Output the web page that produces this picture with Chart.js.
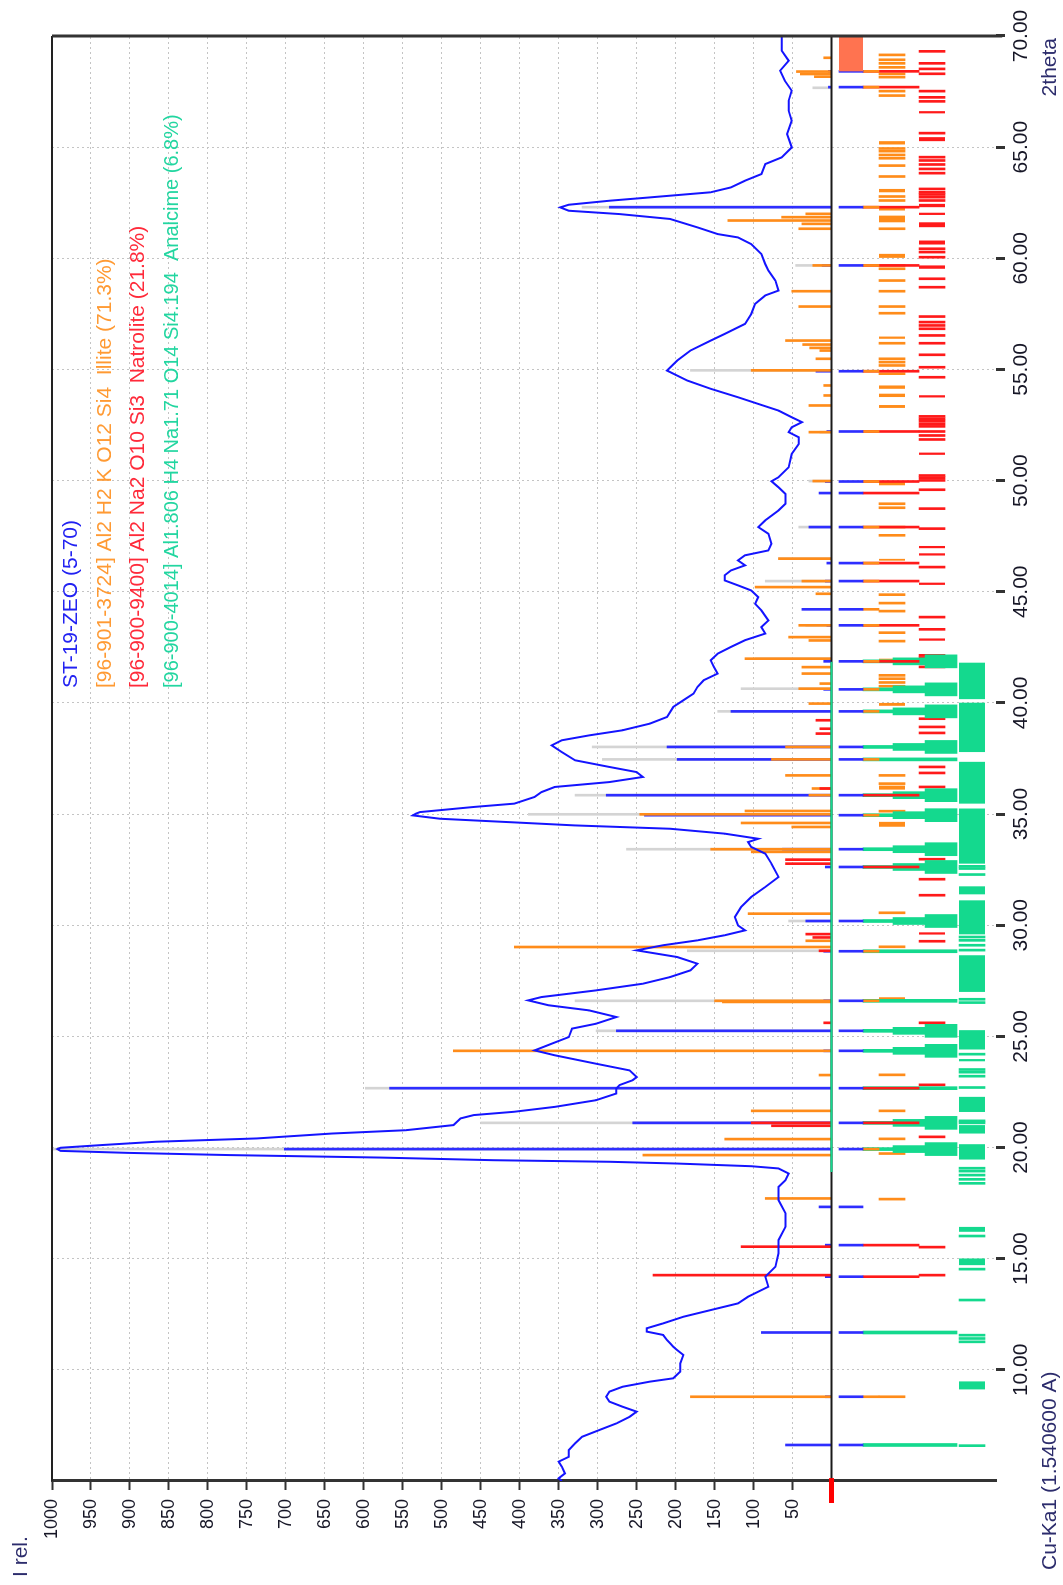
<!DOCTYPE html>
<html>
<head>
<meta charset="utf-8">
<title>ST-19-ZEO</title>
<script src="https://cdn.jsdelivr.net/npm/chart.js@4.4.0/dist/chart.umd.min.js"></script>
<style>
  html, body { margin: 0; padding: 0; background: #fff; overflow: hidden; }
  /* the plot is drawn upright and turned a quarter turn, like the original print */
  #wrap {
    position: absolute; left: 0; top: 0;
    width: 1585px; height: 1063px;
    transform-origin: 0 0;
    transform: translate(0, 1585px) rotate(-90deg);
  }
</style>
</head>
<body>
<div id="wrap"><canvas id="xrd" width="1585" height="1063"></canvas></div>
<script>
// --- Measured scan: [2theta, I rel.] ---
const scanPoints = [
  [5.0,346],[5.12,350],[5.34,342],[5.64,346],[5.87,350],[6.09,337],[6.39,337],[6.69,329],[6.99,320],
  [7.29,298],[7.59,276],[7.89,259],[8.12,250],[8.34,268],[8.57,285],[8.79,289],[9.02,285],[9.24,268],
  [9.47,233],[9.62,203],[9.92,194],[10.29,194],[10.67,190],[10.89,198],[11.04,203],[11.19,207],[11.34,211],
  [11.57,216],[11.72,237],[11.87,237],[12.09,216],[12.39,190],[12.69,155],[12.99,120],[13.29,107],[13.74,81],
  [14.19,85],[14.64,72],[15.24,68],[15.84,68],[16.44,59],[17.04,59],[17.63,68],[18.23,68],[18.53,59],
  [18.83,55],[19.06,68],[19.16,103],[19.28,198],[19.36,285],[19.43,433],[19.55,580],[19.66,771],[19.76,902],
  [19.85,989],[19.93,993],[19.99,989],[20.11,937],[20.26,867],[20.41,737],[20.63,641],[20.78,546],[21.01,485],
  [21.31,476],[21.46,459],[21.61,407],[21.83,355],[22.13,302],[22.43,276],[22.65,276],[22.81,272],[23.03,255],
  [23.17,250],[23.47,259],[23.77,302],[24.15,355],[24.37,381],[24.67,359],[24.97,337],[25.35,333],[25.57,302],
  [25.87,276],[26.17,311],[26.40,363],[26.62,389],[26.77,372],[27.07,302],[27.37,242],[27.67,207],[27.97,181],
  [28.27,172],[28.57,198],[28.87,250],[29.10,216],[29.32,172],[29.55,137],[29.77,111],[29.99,120],[30.37,124],
  [30.82,116],[31.27,103],[31.72,85],[32.17,68],[32.77,77],[33.22,85],[33.52,103],[33.74,107],[33.89,94],
  [34.12,137],[34.34,207],[34.49,329],[34.64,415],[34.79,502],[34.94,537],[35.02,533],[35.09,528],[35.32,459],
  [35.47,407],[35.77,381],[35.99,372],[36.22,355],[36.44,285],[36.67,242],[36.89,250],[37.12,285],[37.42,329],
  [37.79,346],[38.09,359],[38.32,346],[38.54,311],[38.77,268],[39.07,233],[39.37,211],[39.82,203],[40.12,190],
  [40.42,177],[40.72,172],[41.02,164],[41.32,146],[41.62,151],[41.92,155],[42.22,146],[42.52,129],[42.82,111],
  [43.12,85],[43.41,90],[43.71,81],[44.16,90],[44.46,98],[44.76,94],[45.06,103],[45.29,120],[45.51,137],
  [45.74,137],[45.96,129],[46.19,111],[46.41,120],[46.64,111],[46.86,81],[47.16,77],[47.61,81],[47.91,94],
  [48.21,85],[48.66,68],[48.96,59],[49.40,59],[49.70,68],[49.97,77],[50.15,68],[50.60,55],[51.20,51],
  [51.65,42],[51.95,42],[52.18,55],[52.40,51],[52.63,38],[52.85,51],[53.15,68],[53.45,94],[53.75,120],
  [54.13,155],[54.50,185],[54.95,211],[55.40,198],[55.85,181],[56.30,155],[56.60,137],[57.05,111],[57.50,103],
  [57.95,98],[58.33,85],[58.55,68],[59.00,72],[59.45,81],[59.74,85],[60.19,90],[60.64,103],[60.94,120],
  [61.09,146],[61.39,172],[61.77,207],[61.99,272],[62.14,337],[62.29,348],[62.41,337],[62.59,285],[62.74,233],
  [62.97,155],[63.19,129],[63.49,111],[63.79,90],[64.24,85],[64.54,64],[64.99,51],[65.59,57],[66.19,51],
  [66.64,55],[67.09,55],[67.54,51],[67.99,60],[68.44,66],[68.89,55],[69.34,64],[70.0,64]
];

// --- Peak sticks above the zero line: [2theta, I rel.] ---
const greySticks = [
  [19.93,1000],[21.11,450],[22.67,598],[25.25,302],[26.60,329],[28.85,185],[30.19,55],[33.42,263],[34.99,389],
  [35.85,329],[37.46,294],[38.02,307],[39.62,146],[40.64,116],[41.99,98],[43.49,33],[45.48,85],[46.49,68],
  [47.91,42],[49.98,29],[52.18,15],[54.96,181],[59.68,46],[62.30,320],[67.67,24]
];
const peakSticks = [
  [6.62,59],[8.79,8],[11.68,90],[14.19,8],[15.61,8],[17.33,16],[19.93,702],[21.11,255],[22.67,567],[24.35,10],
  [25.25,276],[26.60,10],[28.83,10],[30.19,33],[32.62,8],[33.42,63],[34.95,240],[35.85,289],[37.46,198],
  [38.02,211],[39.62,129],[40.61,10],[41.87,10],[43.49,6],[44.21,38],[45.48,8],[46.29,6],[47.91,29],[49.44,16],
  [49.96,8],[52.21,6],[54.92,20],[59.68,12],[62.30,285],[67.70,4],[68.41,4]
];
const illiteSticks = [
  [8.79,181],[17.71,85],[19.66,242],[20.38,137],[21.65,103],[23.26,16],[24.35,485],[26.55,140],[26.60,150],
  [29.02,407],[29.30,33],[30.52,107],[33.30,103],[33.42,155],[34.42,51],[34.60,116],[34.99,246],[35.14,111],
  [35.85,29],[36.15,25],[36.74,59],[37.46,77],[38.02,59],[39.97,29],[40.64,42],[40.87,15],[41.32,38],[41.61,38],
  [41.99,111],[42.81,29],[42.96,55],[43.49,42],[44.91,20],[45.21,98],[45.48,38],[46.49,68],[49.98,24],[52.18,29],
  [53.38,29],[53.83,10],[54.28,10],[54.96,103],[55.48,20],[55.85,15],[55.97,28],[56.12,37],[56.30,59],[57.83,42],
  [58.52,51],[59.68,24],[61.33,42],[61.55,38],[61.70,133],[61.85,64],[62.00,33],[68.17,22],[68.29,40],[68.40,45],
  [69.02,10]
];
const natroliteSticks = [
  [14.26,229],[15.54,116],[20.98,77],[21.11,103],[25.61,10],[28.85,16],[29.45,24],[29.60,33],[32.77,59],
  [32.95,59],[36.15,15],[38.62,20],[38.84,15],[39.22,20]
];

// --- Phase marker rows below the zero line (2theta positions) ---
const illiteRow = [
  8.79,17.68,19.73,20.39,21.65,23.27,29.03,30.56,35.13,36.37,36.74,40.75,40.92,41.09,41.24,42.78,43.16,44.13,
  44.49,44.87,47.54,47.91,48.78,48.96,54.81,55.18,55.33,55.48,56.18,57.53,57.83,58.52,59.00,59.53,59.68,61.33,
  62.60,62.78,63.68,64.17,64.50,64.65,64.82,64.94,67.32,67.52,68.15,68.30,68.59,68.77,68.93,69.15
];
const illiteBlocks = [
  [26.62,26.76],[34.43,34.65],[36.10,36.28],[39.87,40.00],[41.87,41.99],[46.40,46.48],[49.79,49.94],[53.27,53.40],
  [53.76,53.91],[54.13,54.28],[56.38,56.48],[60.02,60.20],[61.62,61.92],[62.15,62.30],[62.97,63.12],[65.12,65.27]
];
const natroliteRow = [
  14.26,15.52,20.48,21.20,22.82,25.61,29.28,31.35,32.07,32.97,36.22,36.85,37.12,38.65,38.92,39.29,41.62,41.92,
  42.04,42.14,43.31,43.86,46.11,47.84,48.74,49.59,50.01,50.13,50.23,51.85,52.03,52.21,52.44,52.56,52.68,52.78,
  52.89,54.65,55.10,55.66,56.18,56.53,56.83,56.98,57.13,57.38,58.70,59.08,60.05,60.28,60.43,62.60,62.75,62.87,
  62.97,63.12,63.83,64.02,64.22,64.40,64.55,65.63,67.06,67.24,67.52,68.30,68.52,68.77,69.31
];
const natroliteBlocks = [
  [29.58,29.68],[42.80,42.90],[45.31,45.41],[46.63,46.73],[46.96,47.06],[51.16,51.26],[53.74,53.84],[59.53,59.68],
  [60.62,60.80],[61.40,61.62],[61.95,62.05],[62.30,62.45],[65.27,65.45],[66.52,66.62]
];
const analcimeRow = [
  6.59,11.26,11.41,11.56,13.14,14.53,16.02,18.39,18.57,18.76,18.94,19.07,21.11,21.20,22.70,23.21,23.39,23.51,
  24.20,26.52,26.67,28.88,29.10,29.32,29.47,32.28,32.55,32.65
];
const analcimeBlocks = [
  [9.12,9.48],[14.71,15.01],[16.21,16.43],[19.46,20.15],[20.63,21.01],[21.60,22.28],[23.88,23.98],[24.41,25.28],
  [27.00,28.65],[29.59,31.12],[31.39,31.75],[32.77,35.25],[35.47,37.35],[37.79,40.01],[40.17,41.81]
];
const excludedRange = [[68.41,70.0]];

// --- Links from observed peaks to the phase rows ---
const illiteLinks = [
  8.79,19.93,26.60,28.83,34.95,37.46,39.62,40.61,41.87,43.49,44.21,45.48,46.29,47.91,49.96,52.21,54.92,59.68,
  62.30,67.70,68.41
];
const natroliteLinks = [
  14.19,15.61,21.11,22.67,32.62,35.85,41.87,43.49,45.48,46.29,47.91,49.44,49.96,52.21,54.92,59.68,62.30,67.70,68.41
];
const analcimeWedges = [19.93,21.11,24.35,25.25,30.19,32.62,33.42,34.95,35.85,38.02,39.62,40.61,41.87];
const analcimeThin = [6.62,11.68,22.67,26.60,28.83,37.46];

// --- Axis ticks and texts ---
const thetaTicks = { min: 5, max: 70, step: 5 };
const intensityTicks = { min: -211, max: 1000, step: 50 };
const phaseLabels = [
  { text: 'ST-19-ZEO (5-70)', color: '#2222f2', size: 21 },
  { text: '[96-901-3724] Al2 H2 K O12 Si4  Illite (71.3%)', color: '#ff9a33', size: 21 },
  { text: '[96-900-9400] Al2 Na2 O10 Si3  Natrolite (21.8%)', color: '#ff2a3a', size: 21 },
  { text: '[96-900-4014] Al1.806 H4 Na1.71 O14 Si4.194  Analcime (6.8%)', color: '#22d6a0', size: 20 }
];

// --- Styling ---
const FONT = '"Liberation Sans", Arial, Helvetica, sans-serif';
const C = {
  scan: '#1414ff', peak: '#2e2eff', grey: '#d4d4d4', illite: '#ff8c1a', natrolite: '#ff1a1a',
  analcime: '#14d98e', excluded: '#ff7350', axis: '#333333', grid: '#c4c4c4', text: '#161626'
};
// bands below zero (in I rel. units)
const band = {
  peak: [-9.6, -40.4],
  illite: [-60.9, -94.3],
  natrolite: [-112.3, -145.6],
  analcime: [-163.6, -196.9],
  wedge: [-40.4, -78.9, -120, -161]
};
const mid = b => (b[0] + b[1]) / 2;

function heightBars(pairs) { return pairs.map(([t, v]) => ({ x: t, y: [0, v] })); }
function rowBars(list, lo, hi) { return list.map(t => ({ x: t, y: [lo, hi] })); }
function blockLine(blocks, level) {
  return blocks.flatMap(([a, b]) => [{ x: a, y: level }, { x: b, y: level }, { x: b, y: null }]);
}
function bars(data, color, thickness, order) {
  return { type: 'bar', data, backgroundColor: color, borderWidth: 0, barThickness: thickness,
           grouped: false, order };
}
function line(data, color, width, order, noClip) {
  const ds = { type: 'line', data, borderColor: color, borderWidth: width, pointRadius: 0,
               fill: false, tension: 0, spanGaps: false, order };
  if (noClip) ds.clip = false;
  return ds;
}

const datasets = [
  // frame and zero line
  line([{ x: 70, y: 1000 }, { x: 70, y: -219 }], C.axis, 3, 0, true),
  line([{ x: 5, y: 1000 }, { x: 70, y: 1000 }], '#222', 2, 0, true),
  line(scanPoints.map(([t, v]) => ({ x: t, y: v })), C.scan, 2, 1),
  line([{ x: 4.01, y: 0 }, { x: 5.13, y: 0 }], '#ff0000', 5, 2, true),
  line([{ x: 18.9, y: 0 }, { x: 41.85, y: 0 }], C.analcime, 2, 3),
  line([{ x: 5, y: 0 }, { x: 70, y: 0 }], '#1a1a1a', 2, 4, true),

  // sticks above zero
  bars(heightBars(natroliteSticks), C.natrolite, 2, 20),
  bars(heightBars(illiteSticks), C.illite, 2, 21),
  bars(heightBars(peakSticks), C.peak, 2, 22),
  bars(heightBars(greySticks), C.grey, 2, 23),

  // observed peak row
  line(blockLine(excludedRange, mid(band.peak)), C.excluded, 24, 30),
  bars(rowBars(peakSticks.map(p => p[0]), band.peak[0], band.peak[1]), C.peak, 2, 31),

  // links to phases
  bars(rowBars(illiteLinks, band.wedge[0], band.illite[0]), C.illite, 2, 32),
  bars(rowBars(natroliteLinks, band.wedge[0], band.natrolite[0]), C.natrolite, 2, 33),
  bars(rowBars(analcimeThin, band.wedge[0], band.wedge[3]), C.analcime, 3, 34),
  bars(rowBars(analcimeWedges, band.wedge[0], band.wedge[1]), C.analcime, 3, 35),
  bars(rowBars(analcimeWedges, band.wedge[1], band.wedge[2]), C.analcime, 7, 36),
  bars(rowBars(analcimeWedges, band.wedge[2], band.wedge[3]), C.analcime, 13, 37),

  // phase rows
  bars(rowBars(illiteRow, band.illite[0], band.illite[1]), C.illite, 2, 40),
  line(blockLine(illiteBlocks, mid(band.illite)), C.illite, 26, 41),
  bars(rowBars(natroliteRow, band.natrolite[0], band.natrolite[1]), C.natrolite, 2, 42),
  line(blockLine(natroliteBlocks, mid(band.natrolite)), C.natrolite, 26, 43),
  bars(rowBars(analcimeRow, band.analcime[0], band.analcime[1]), C.analcime, 2, 44),
  line(blockLine(analcimeBlocks, mid(band.analcime)), C.analcime, 26, 45)
];

const textPlugin = {
  id: 'xrdTexts',
  afterDraw(chart) {
    const ctx = chart.ctx;
    ctx.save();
    ctx.textBaseline = 'middle';
    ctx.font = '21px ' + FONT;
    ctx.fillStyle = '#2c2c6c';
    ctx.textAlign = 'left';
    ctx.fillText('I rel.', 8, 21);
    ctx.fillText('Cu-Ka1 (1.540600 A)', 15, 1050);
    ctx.textAlign = 'right';
    ctx.fillText('2theta', 1547, 1050);

    ctx.textAlign = 'left';
    const rows = [71, 105, 138.5, 172];
    phaseLabels.forEach((p, i) => {
      ctx.font = p.size + 'px ' + FONT;
      ctx.fillStyle = p.color;
      ctx.fillText(p.text, 897, rows[i]);
    });
    ctx.restore();
  }
};

new Chart(document.getElementById('xrd'), {
  type: 'line',
  data: { datasets },
  options: {
    responsive: false,
    animation: false,
    events: [],
    layout: { padding: { left: 0, right: 36, top: 52, bottom: 0 } },
    plugins: { legend: { display: false }, tooltip: { enabled: false } },
    scales: {
      x: {
        type: 'linear',
        position: 'bottom',
        min: thetaTicks.min,
        max: thetaTicks.max,
        offset: false,
        afterFit: s => { s.height = 67; },
        ticks: {
          stepSize: thetaTicks.step,
          autoSkip: false,
          maxRotation: 0,
          minRotation: 0,
          padding: 4,
          color: C.text,
          font: { family: FONT, size: 21 },
          callback: v => (v > thetaTicks.min ? v.toFixed(2) : '')
        },
        grid: {
          offset: false,
          color: c => (c.tick && c.tick.value > 5 && c.tick.value < 70 ? C.grid : 'rgba(0,0,0,0)'),
          lineWidth: 1,
          tickLength: 9,
          tickWidth: 3,
          tickColor: c => (c.tick && c.tick.value > 5 ? C.axis : 'rgba(0,0,0,0)')
        },
        border: { display: false, dash: [2, 3] }
      },
      y: {
        type: 'linear',
        position: 'left',
        min: intensityTicks.min,
        max: intensityTicks.max,
        afterFit: s => { s.width = 104; },
        ticks: {
          stepSize: intensityTicks.step,
          autoSkip: false,
          padding: 9,
          color: C.text,
          font: { family: FONT, size: 18 },
          callback: v => (v > 0 ? String(v) : '')
        },
        grid: {
          color: c => (c.tick && c.tick.value > 0 && c.tick.value < 1000 ? C.grid : 'rgba(0,0,0,0)'),
          lineWidth: 1,
          tickLength: 9,
          tickWidth: 2,
          tickColor: c => (c.tick && c.tick.value > 0 ? C.axis : 'rgba(0,0,0,0)')
        },
        border: { display: true, color: C.axis, width: 3, dash: [2, 3] }
      }
    }
  },
  plugins: [textPlugin]
});
</script>
</body>
</html>
